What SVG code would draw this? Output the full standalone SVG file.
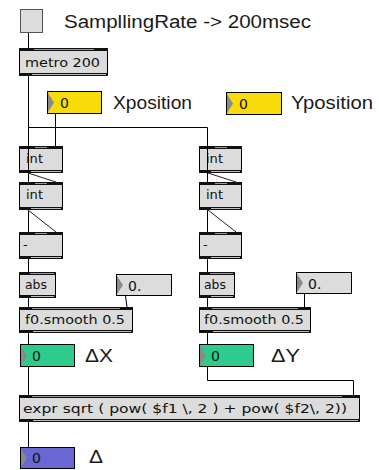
<svg xmlns="http://www.w3.org/2000/svg" width="379" height="470" viewBox="0 0 379 470">
<style>
.obj{fill:#dcdcdc;stroke:#000;stroke-width:1}
.bar{fill:#111}
.in{fill:#9a9a9a}
.bl{fill:#bdbdbd}
.tx{font-family:"DejaVu Sans","Liberation Sans",sans-serif;font-size:13px;fill:#111}
.nm{font-family:"DejaVu Sans","Liberation Sans",sans-serif;font-size:14px;fill:#111}
.lb{font-family:"Liberation Sans","DejaVu Sans",sans-serif;font-size:18px;fill:#1a1a1a}
.tri{fill:#8a8a8a}
.yel{fill:#f8dc0a;stroke:#000;stroke-width:1}
.grn{fill:#2fcb8c;stroke:#000;stroke-width:1}
.blu{fill:#6a66d2;stroke:#000;stroke-width:1}
.flt{fill:#dcdcdc;stroke:#000;stroke-width:1}
.c{fill:none;stroke:#000;stroke-width:1}
.d{fill:none;stroke:#222;stroke-width:1}
</style>
<rect width="379" height="470" fill="#fff"/>

<g id="toggle">
<rect x="20.5" y="9.5" width="22" height="23" fill="#dcdcdc" stroke="#555" stroke-width="1"/>
</g>
<g id="label-rate"><text class="lb" x="64" y="28" textLength="247" lengthAdjust="spacingAndGlyphs">SampllingRate -&gt; 200msec</text></g>

<g id="metro">
<rect class="obj" x="19.5" y="48.5" width="88" height="27"/>
<rect class="bar" x="19" y="48" width="89" height="3"/>
<rect class="in" x="34" y="49" width="60" height="1"/>
<rect class="bar" x="19" y="73" width="89" height="3"/>
<rect class="bl" x="32" y="74" width="74" height="1"/>
<text class="tx" x="25" y="67" textLength="75" lengthAdjust="spacingAndGlyphs">metro 200</text>
</g>

<g id="xpos">
<rect class="yel" x="47.5" y="91.5" width="54" height="22"/>
<polygon class="tri" points="48,93 54,102.5 48,112"/>
<text class="nm" x="60" y="108">0</text>
</g>
<g id="label-x"><text class="lb" x="113" y="109" textLength="79" lengthAdjust="spacingAndGlyphs">Xposition</text></g>

<g id="ypos">
<rect class="yel" x="226.5" y="92.5" width="55" height="22"/>
<polygon class="tri" points="227,94 233,103.5 227,113"/>
<text class="nm" x="239" y="109">0</text>
</g>
<g id="label-y"><text class="lb" x="291" y="109" textLength="82" lengthAdjust="spacingAndGlyphs">Yposition</text></g>

<!-- left column -->
<g id="int1L">
<rect class="obj" x="19.5" y="146.5" width="43" height="26"/>
<rect class="bar" x="19" y="146" width="44" height="3"/>
<rect class="in" x="35" y="147" width="12" height="1"/>
<rect class="bar" x="19" y="170" width="44" height="3"/>
<rect class="bl" x="31" y="171" width="30" height="1"/>
<text class="tx" x="26" y="163" textLength="17" lengthAdjust="spacingAndGlyphs">int</text>
</g>
<g id="int2L">
<rect class="obj" x="19.5" y="182.5" width="43" height="27"/>
<rect class="bar" x="19" y="182" width="44" height="3"/>
<rect class="in" x="35" y="183" width="12" height="1"/>
<rect class="bar" x="19" y="207" width="44" height="3"/>
<rect class="bl" x="31" y="208" width="30" height="1"/>
<text class="tx" x="26" y="199" textLength="17" lengthAdjust="spacingAndGlyphs">int</text>
</g>
<g id="minusL">
<rect class="obj" x="19.5" y="232.5" width="43" height="26"/>
<rect class="bar" x="19" y="232" width="44" height="3"/>
<rect class="in" x="35" y="233" width="12" height="1"/>
<rect class="bar" x="19" y="256" width="44" height="3"/>
<rect class="bl" x="31" y="257" width="30" height="1"/>
<text class="tx" x="23" y="249">-</text>
</g>
<g id="absL">
<rect class="obj" x="19.5" y="272.5" width="36" height="25"/>
<rect class="bar" x="19" y="272" width="37" height="3"/>
<rect class="in" x="30" y="273" width="24" height="1"/>
<rect class="bar" x="19" y="295" width="37" height="3"/>
<rect class="bl" x="31" y="296" width="23" height="1"/>
<text class="tx" x="25" y="289" textLength="22" lengthAdjust="spacingAndGlyphs">abs</text>
</g>
<g id="floatL">
<rect class="flt" x="116.5" y="274.5" width="55" height="21"/>
<polygon class="tri" points="117,276 123,285 117,294"/>
<text class="nm" x="128" y="291">0.</text>
</g>
<g id="smoothL">
<rect class="obj" x="19.5" y="307.5" width="113" height="25"/>
<rect class="bar" x="19" y="307" width="114" height="3"/>
<rect class="in" x="32" y="308" width="88" height="1"/>
<rect class="bar" x="19" y="330" width="114" height="3"/>
<rect class="bl" x="33" y="331" width="98" height="1"/>
<text class="tx" x="25" y="324" textLength="100" lengthAdjust="spacingAndGlyphs">f0.smooth 0.5</text>
</g>
<g id="dxL">
<rect class="grn" x="20.5" y="344.5" width="54" height="22"/>
<polygon class="tri" points="21,346 27,355.5 21,365"/>
<text class="nm" x="32" y="361">0</text>
</g>
<g id="label-dx"><text class="lb" x="85" y="362" textLength="28" lengthAdjust="spacingAndGlyphs">ΔX</text></g>

<!-- right column -->
<g id="int1R">
<rect class="obj" x="199.5" y="146.5" width="42" height="26"/>
<rect class="bar" x="199" y="146" width="43" height="3"/>
<rect class="in" x="215" y="147" width="12" height="1"/>
<rect class="bar" x="199" y="170" width="43" height="3"/>
<rect class="bl" x="211" y="171" width="29" height="1"/>
<text class="tx" x="206" y="163" textLength="17" lengthAdjust="spacingAndGlyphs">int</text>
</g>
<g id="int2R">
<rect class="obj" x="199.5" y="182.5" width="42" height="27"/>
<rect class="bar" x="199" y="182" width="43" height="3"/>
<rect class="in" x="215" y="183" width="12" height="1"/>
<rect class="bar" x="199" y="207" width="43" height="3"/>
<rect class="bl" x="211" y="208" width="29" height="1"/>
<text class="tx" x="206" y="199" textLength="17" lengthAdjust="spacingAndGlyphs">int</text>
</g>
<g id="minusR">
<rect class="obj" x="199.5" y="232.5" width="42" height="26"/>
<rect class="bar" x="199" y="232" width="43" height="3"/>
<rect class="in" x="215" y="233" width="12" height="1"/>
<rect class="bar" x="199" y="256" width="43" height="3"/>
<rect class="bl" x="211" y="257" width="29" height="1"/>
<text class="tx" x="203" y="249">-</text>
</g>
<g id="absR">
<rect class="obj" x="199.5" y="272.5" width="35" height="25"/>
<rect class="bar" x="199" y="272" width="36" height="3"/>
<rect class="in" x="210" y="273" width="23" height="1"/>
<rect class="bar" x="199" y="295" width="36" height="3"/>
<rect class="bl" x="211" y="296" width="22" height="1"/>
<text class="tx" x="204" y="289" textLength="22" lengthAdjust="spacingAndGlyphs">abs</text>
</g>
<g id="floatR">
<rect class="flt" x="296.5" y="272.5" width="55" height="21"/>
<polygon class="tri" points="297,274 303,283 297,292"/>
<text class="nm" x="308" y="289">0.</text>
</g>
<g id="smoothR">
<rect class="obj" x="199.5" y="307.5" width="111" height="25"/>
<rect class="bar" x="199" y="307" width="112" height="3"/>
<rect class="in" x="212" y="308" width="86" height="1"/>
<rect class="bar" x="199" y="330" width="112" height="3"/>
<rect class="bl" x="213" y="331" width="96" height="1"/>
<text class="tx" x="204" y="324" textLength="100" lengthAdjust="spacingAndGlyphs">f0.smooth 0.5</text>
</g>
<g id="dyR">
<rect class="grn" x="199.5" y="344.5" width="54" height="22"/>
<polygon class="tri" points="200,346 206,355.5 200,365"/>
<text class="nm" x="211" y="361">0</text>
</g>
<g id="label-dy"><text class="lb" x="271" y="362" textLength="29" lengthAdjust="spacingAndGlyphs">ΔY</text></g>

<g id="expr">
<rect class="obj" x="19.5" y="395.5" width="340" height="26"/>
<rect class="bar" x="19" y="395" width="341" height="3"/>
<rect class="in" x="32" y="396" width="310" height="1"/>
<rect class="bar" x="19" y="419" width="341" height="3"/>
<rect class="bl" x="33" y="420" width="325" height="1"/>
<text class="tx" x="23" y="413" textLength="324" lengthAdjust="spacingAndGlyphs">expr sqrt ( pow( $f1 \, 2 ) + pow( $f2\, 2))</text>
</g>
<g id="delta">
<rect class="blu" x="20.5" y="447.5" width="54" height="21"/>
<polygon class="tri" points="21,449 27,458 21,467"/>
<text class="nm" x="32" y="463">0</text>
</g>
<g id="label-d"><text class="lb" x="89" y="463" textLength="14" lengthAdjust="spacingAndGlyphs">Δ</text></g>

<g id="connectors">
<line class="c" x1="28.5" y1="33" x2="28.5" y2="48"/>
<line class="c" x1="28.5" y1="76" x2="28.5" y2="183"/>
<polyline class="c" points="28.5,127.5 207.5,127.5 207.5,183"/>
<line class="c" x1="55.5" y1="114" x2="55.5" y2="147"/>
<line class="c" x1="28.5" y1="173" x2="28.5" y2="182"/>
<line class="d" x1="28" y1="173" x2="56" y2="182"/>
<line class="c" x1="28.5" y1="210" x2="28.5" y2="232"/>
<line class="d" x1="28" y1="210" x2="56" y2="232"/>
<line class="c" x1="28.5" y1="259" x2="28.5" y2="272"/>
<line class="c" x1="28.5" y1="298" x2="28.5" y2="307"/>
<line class="c" x1="125.5" y1="296" x2="127" y2="307"/>
<line class="c" x1="28.5" y1="333" x2="28.5" y2="344"/>
<line class="c" x1="28.5" y1="367" x2="28.5" y2="395"/>
<line class="c" x1="28.5" y1="422" x2="28.5" y2="447"/>
<line class="c" x1="207.5" y1="173" x2="207.5" y2="182"/>
<line class="d" x1="208" y1="173" x2="236" y2="182"/>
<line class="c" x1="207.5" y1="210" x2="207.5" y2="232"/>
<line class="d" x1="208" y1="210" x2="236" y2="232"/>
<line class="c" x1="207.5" y1="259" x2="207.5" y2="272"/>
<line class="c" x1="207.5" y1="298" x2="207.5" y2="307"/>
<line class="c" x1="304.5" y1="294" x2="304.5" y2="307"/>
<line class="c" x1="207.5" y1="333" x2="207.5" y2="344"/>
<polyline class="c" points="207.5,367 207.5,380.5 353.5,380.5 353.5,395"/>
</g>
</svg>
